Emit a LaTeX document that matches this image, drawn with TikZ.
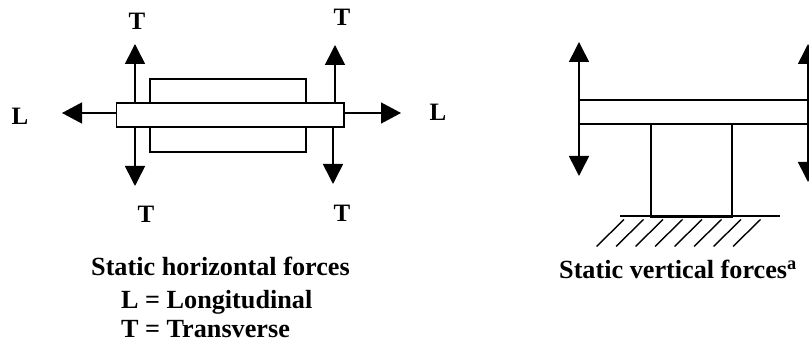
\documentclass[tikz,border=0pt]{standalone}
\usepackage{fontspec}
\setmainfont{Liberation Serif}
\usetikzlibrary{arrows.meta}
\tikzset{
  x=1pt,y=-1pt,
  part/.style={draw=black,line width=1.6pt,fill=white,minimum width=0pt,inner sep=0pt},
  force/.style={line width=1.6pt,-{Triangle[length=20pt,width=20pt]}},
  lforce/.style={line width=1.4pt,-{Triangle[length=20pt,width=21pt]}},
  sym/.style={font=\bfseries\fontsize{25}{25}\selectfont,inner sep=0pt},
  captext/.style={font=\bfseries\fontsize{26.2}{30}\selectfont,inner sep=0pt,anchor=base west},
  stroke/.style={line width=1.4pt}
}
\begin{document}
\begin{tikzpicture}
\useasboundingbox (0,0) rectangle (809,344);
% left figure
\coordinate (tl) at (135,44);\coordinate (tlb) at (135,103);
\coordinate (tr) at (335,45);\coordinate (trb) at (335,103);
\coordinate (bl) at (135,186);\coordinate (blb) at (135,127);
\coordinate (br) at (333,184);\coordinate (brb) at (333,127);
\coordinate (ll) at (62,113);\coordinate (llb) at (117,113);
\coordinate (lr) at (401,113);\coordinate (lrb) at (344,113);
\node[part,minimum width=156pt,minimum height=73pt] (inner) at (228,115.5) {};
\node[part,minimum width=227.5pt,minimum height=24pt] (deck) at (230.2,115) {};
\draw[force] (tlb) -- (tl);
\draw[force] (trb) -- (tr);
\draw[force] (blb) -- (bl);
\draw[force] (brb) -- (br);
\draw[lforce] (llb) -- (ll);
\draw[lforce] (lrb) -- (lr);
\node[sym] (t1) at (137,21) {T};
\node[sym] (t2) at (342,17) {T};
\node[sym] (t3) at (146,214) {T};
\node[sym] (t4) at (342,213) {T};
\node[sym] (l1) at (20,116) {L};
\node[sym] (l2) at (438,112) {L};
\node[captext] (c1) at (91,276) {Static horizontal forces};
\node[captext] (c2) at (121,309) {L = Longitudinal};
\node[captext] (c3) at (121,338) {T = Transverse};
% right figure
\node[part,minimum width=229pt,minimum height=24pt] (deckb) at (693.5,112) {};
\node[part,minimum width=81pt,minimum height=92pt] (col) at (691.5,170) {};
\coordinate (gl) at (620,216);\coordinate (gr) at (780,216);
\draw[line width=1.8pt] (gl) -- (gr);
\draw[line width=3pt] (col.south west) ++(0,-0.5) -- ([yshift=0.5pt]col.south east);
\coordinate (a) at (579,112);
\coordinate (au) at (579,42);\coordinate (ad) at (579,176);
\draw[force] (a) -- (au);
\draw[force] (a) -- (ad);
\coordinate (b) at (808,112);
\coordinate (bu) at (808,44);\coordinate (bd) at (808,182);
\draw[force] (b) -- (bu);
\draw[force] (b) -- (bd);
\foreach \i in {0,...,7}{
  \draw[stroke] ({624+19.5*\i},219.5) -- ({596.5+19.5*\i},246.5);
}
\node[captext] (c5) at (559,279) {Static vertical forces\textsuperscript{a}};
\end{tikzpicture}
\end{document}
